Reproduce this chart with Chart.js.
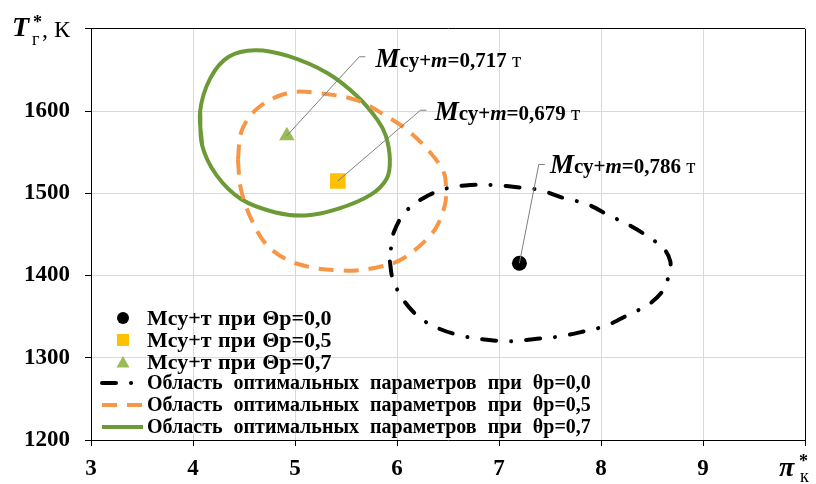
<!DOCTYPE html>
<html>
<head>
<meta charset="utf-8">
<script src="https://cdn.jsdelivr.net/npm/chart.js@4/dist/chart.umd.min.js"></script>
<style>
  html, body { margin: 0; padding: 0; background: #fff; }
  #wrap { width: 816px; height: 484px; }
</style>
</head>
<body>
<div id="wrap"><canvas id="c" width="816" height="484"></canvas></div>
<script>
// Axis ranges (π*к along x, T*г in K along y)
const xTickValues = [3, 4, 5, 6, 7, 8, 9, 10];
const yTickValues = [1200, 1300, 1400, 1500, 1600, 1700];

// Optimum points Мсу+т for θр = 0.0, 0.5, 0.7
const optimumTheta00 = [[7.20, 1415]];
const optimumTheta05 = [[5.42, 1515]];
const optimumTheta07 = [[4.92, 1570]];

// Mass of the power plant at each optimum, tonnes
const optimumMass = ['0,786', '0,679', '0,717'];

// Boundaries of the optimal-parameter regions (closed contours)
const regionTheta00 = [
  [5.93, 1417], [5.96, 1395], [6.07, 1369],
  [6.23, 1348], [6.42, 1335], [6.66, 1326], [6.88, 1322], [7.11, 1320],
  [7.37, 1323], [7.60, 1326], [7.83, 1332], [8.05, 1339], [8.28, 1353],
  [8.47, 1365], [8.62, 1384], [8.67, 1405], [8.68, 1417], [8.62, 1432],
  [8.49, 1445], [8.28, 1461], [8.08, 1473], [7.86, 1487], [7.64, 1494],
  [7.40, 1504], [7.20, 1507], [6.95, 1510], [6.72, 1510], [6.49, 1506],
  [6.27, 1495], [6.08, 1477], [5.97, 1453], [5.94, 1432], [5.93, 1417]
];
const regionTheta05 = [
  [4.44, 1541], [4.47, 1505], [4.57, 1469], [4.74, 1435],
  [5.03, 1414], [5.47, 1406], [5.81, 1410], [6.05, 1420], [6.30, 1445],
  [6.40, 1462], [6.47, 1486], [6.48, 1503], [6.46, 1525], [6.33, 1549],
  [6.10, 1577], [5.88, 1595], [5.61, 1613], [5.22, 1622], [4.93, 1622],
  [4.64, 1604], [4.48, 1577], [4.44, 1541]
];
const regionTheta07 = [
  [4.07, 1600], [4.09, 1558], [4.23, 1522],
  [4.47, 1493], [4.80, 1477], [5.10, 1473], [5.42, 1481], [5.74, 1498],
  [5.90, 1518], [5.93, 1541], [5.89, 1570], [5.81, 1589], [5.61, 1618],
  [5.32, 1646], [4.93, 1667], [4.61, 1674], [4.35, 1666], [4.17, 1640],
  [4.07, 1600]
];

// Callout anchors: [leader end x, leader end y, text x, text baseline y] in axis units
const calloutTheta00 = [7.39, 1535, 7.50, 1525];
const calloutTheta05 = [6.23, 1601, 6.37, 1589];
const calloutTheta07 = [5.63, 1666, 5.79, 1654];

// Legend captions
const legendLabels = [
  'Мсу+т при Θр=0,0',
  'Мсу+т при Θр=0,5',
  'Мсу+т при Θр=0,7',
  'Область оптимальных параметров при θр=0,0',
  'Область оптимальных параметров при θр=0,5',
  'Область оптимальных параметров при θр=0,7'
];

const SERIF = '"Liberation Serif", "Times New Roman", serif';
const C_BLACK = '#000000';
const C_ORANGE = '#F79646';
const C_GREEN = '#6B9A36';
const C_SQUARE = '#FFC000';
const C_TRIANGLE = '#9BBB59';
const DASH_DOT = [14, 15, 0.1, 15];
const DASH = [15, 10];

const toPts = arr => arr.map(p => ({ x: p[0], y: p[1] }));
// Solid contour: run one vertex past the start so the seam is smoothed
const toClosedSmooth = arr => toPts(arr.concat([arr[1]]));

function drawRuns(ctx, x, y, runs) {
  let cx = x;
  for (const r of runs) {
    ctx.font = r.font;
    ctx.fillText(r.t, cx, y + (r.dy || 0));
    cx += ctx.measureText(r.t).width;
  }
  return cx;
}

const decor = {
  id: 'decor',
  afterDatasetsDraw(chart) {
    const ctx = chart.ctx;
    const xs = chart.scales.x, ys = chart.scales.y;
    ctx.save();
    ctx.textBaseline = 'alphabetic';
    ctx.textAlign = 'left';
    ctx.fillStyle = '#000';

    // Callouts with leader lines
    const callouts = [
      [optimumTheta00[0], calloutTheta00, optimumMass[0]],
      [optimumTheta05[0], calloutTheta05, optimumMass[1]],
      [optimumTheta07[0], calloutTheta07, optimumMass[2]]
    ];
    for (const [pt, c, mass] of callouts) {
      const px = xs.getPixelForValue(pt[0]), py = ys.getPixelForValue(pt[1]);
      const ex = xs.getPixelForValue(c[0]), ey = ys.getPixelForValue(c[1]);
      ctx.strokeStyle = '#7f7f7f';
      ctx.lineWidth = 1;
      ctx.setLineDash([]);
      ctx.beginPath();
      ctx.moveTo(px, py);
      ctx.lineTo(ex, ey);
      ctx.lineTo(ex + 6, ey);
      ctx.stroke();
      const tx = xs.getPixelForValue(c[2]), ty = ys.getPixelForValue(c[3]);
      ctx.fillStyle = '#000';
      drawRuns(ctx, tx, ty, [
        { t: 'М', font: `italic bold 27px ${SERIF}` },
        { t: 'су+', font: `bold 21px ${SERIF}` },
        { t: 'т', font: `italic bold 21px ${SERIF}` },
        { t: '=' + mass, font: `bold 21px ${SERIF}` },
        { t: ' т', font: `21px ${SERIF}` }
      ]);
    }

    // Legend
    const lx0 = 102, lx1 = 143, mx = 123, tx = 147;
    const rows = [318, 340, 362, 383, 405, 427];
    rows.forEach((ry, i) => {
      ctx.setLineDash([]);
      if (i === 0) {
        ctx.fillStyle = C_BLACK;
        ctx.beginPath(); ctx.arc(mx, ry, 6, 0, Math.PI * 2); ctx.fill();
      } else if (i === 1) {
        ctx.fillStyle = C_SQUARE;
        ctx.fillRect(mx - 6, ry - 6, 12, 12);
      } else if (i === 2) {
        ctx.fillStyle = C_TRIANGLE;
        ctx.beginPath();
        ctx.moveTo(mx, ry - 6); ctx.lineTo(mx + 6.5, ry + 5.5); ctx.lineTo(mx - 6.5, ry + 5.5);
        ctx.closePath(); ctx.fill();
      } else {
        ctx.lineWidth = 4;
        if (i === 3) { ctx.strokeStyle = C_BLACK; ctx.setLineDash(DASH_DOT); ctx.lineCap = 'round'; }
        if (i === 4) { ctx.strokeStyle = C_ORANGE; ctx.setLineDash(DASH); ctx.lineCap = 'butt'; }
        if (i === 5) { ctx.strokeStyle = C_GREEN; ctx.setLineDash([]); ctx.lineCap = 'butt'; }
        ctx.beginPath(); ctx.moveTo(lx0, ry); ctx.lineTo(lx1, ry); ctx.stroke();
        ctx.setLineDash([]);
      }
      ctx.fillStyle = '#000';
      ctx.font = i < 3 ? `bold 22px ${SERIF}` : `bold 20px ${SERIF}`;
      if ('wordSpacing' in ctx) ctx.wordSpacing = i < 3 ? '1px' : '6px';
      ctx.textBaseline = 'middle';
      ctx.fillText(legendLabels[i], tx, ry + 1);
      ctx.textBaseline = 'alphabetic';
    });
    if ('wordSpacing' in ctx) ctx.wordSpacing = '0px';

    // Axis titles
    ctx.fillStyle = '#000';
    ctx.font = `italic bold 28px ${SERIF}`;
    ctx.fillText('T', 12, 36);
    ctx.font = `bold 18px ${SERIF}`;
    ctx.fillText('*', 33, 28);
    ctx.font = `18px ${SERIF}`;
    ctx.fillText('г', 32, 45);
    ctx.font = `24px ${SERIF}`;
    ctx.fillText(', К', 42, 37);

    ctx.font = `italic bold 28px ${SERIF}`;
    ctx.fillText('π', 779, 476);
    ctx.font = `bold 18px ${SERIF}`;
    ctx.fillText('*', 799, 467);
    ctx.font = `18px ${SERIF}`;
    ctx.fillText('к', 800, 482);
    ctx.restore();
  }
};

new Chart(document.getElementById('c'), {
  type: 'scatter',
  data: {
    datasets: [
      { data: toPts(regionTheta00), showLine: true, borderColor: C_BLACK, borderWidth: 4,
        borderDash: DASH_DOT, borderCapStyle: 'round', tension: 0.35, pointRadius: 0, fill: false },
      { data: toPts(regionTheta05), showLine: true, borderColor: C_ORANGE, borderWidth: 4,
        borderDash: DASH, borderCapStyle: 'butt', tension: 0.35, pointRadius: 0, fill: false },
      { data: toClosedSmooth(regionTheta07), showLine: true, borderColor: C_GREEN, borderWidth: 4,
        tension: 0.35, pointRadius: 0, fill: false },
      { data: toPts(optimumTheta00), pointStyle: 'circle', pointRadius: 7.5,
        backgroundColor: C_BLACK, borderColor: C_BLACK, borderWidth: 0 },
      { data: toPts(optimumTheta05), pointStyle: 'rect', pointRadius: 11,
        backgroundColor: C_SQUARE, borderColor: C_SQUARE, borderWidth: 0 },
      { data: toPts(optimumTheta07), pointStyle: 'triangle', pointRadius: 9,
        backgroundColor: C_TRIANGLE, borderColor: C_TRIANGLE, borderWidth: 0 }
    ]
  },
  options: {
    responsive: false,
    animation: false,
    layout: { padding: { top: 25, right: 7, left: 0, bottom: 0 } },
    plugins: { legend: { display: false }, tooltip: { enabled: false } },
    scales: {
      x: {
        type: 'linear',
        min: xTickValues[0], max: xTickValues[xTickValues.length - 1],
        afterBuildTicks: s => { s.ticks = xTickValues.map(v => ({ value: v })); },
        afterFit: s => { s.height = 44; },
        grid: {
          color: c => (c.tick && c.tick.value === 10 ? '#000' : '#d9d9d9'),
          tickColor: '#000', tickLength: 6, lineWidth: 1
        },
        border: { color: '#000', width: 1 },
        ticks: {
          padding: 9, color: '#000',
          font: { family: SERIF, size: 23, weight: 'bold' },
          callback: v => (v === 10 ? '' : String(v))
        }
      },
      y: {
        type: 'linear',
        min: yTickValues[0], max: yTickValues[yTickValues.length - 1],
        afterBuildTicks: s => { s.ticks = yTickValues.map(v => ({ value: v })); },
        afterFit: s => { s.width = 91; },
        grid: {
          color: c => (c.tick && c.tick.value === 1700 ? '#000' : '#d9d9d9'),
          tickColor: '#000', tickLength: 6, lineWidth: 1
        },
        border: { color: '#000', width: 1 },
        ticks: {
          padding: 15, color: '#000',
          font: { family: SERIF, size: 23, weight: 'bold' },
          callback: v => (v === 1700 ? '' : String(v))
        }
      }
    }
  },
  plugins: [decor]
});
</script>
</body>
</html>
